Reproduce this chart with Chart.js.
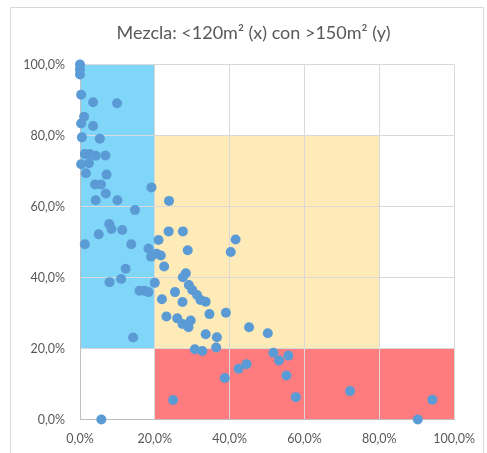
<!DOCTYPE html>
<html><head><meta charset="utf-8">
<script src="https://cdn.jsdelivr.net/npm/chart.js@4/dist/chart.umd.min.js"></script>
<style>html,body{margin:0;padding:0;background:#fff}#wrap{width:487px;height:453px}</style>
</head><body><div id="wrap"><canvas id="c" width="487" height="453"></canvas></div>
<script>
const titleText = 'Mezcla: <120m\u00B2 (x) con >150m\u00B2 (y)';
const tickLabels = ['0,0%','20,0%','40,0%','60,0%','80,0%','100,0%'];
const xValues = [0,0,0,0.3,3.5,9.9,1.1,0.3,3.5,0.5,5.3,1.3,2.6,4.2,6.8,0.3,2.4,1.6,7.1,4.0,5.6,6.9,4.2,10.0,19.1,23.8,14.7,7.8,8.4,5.0,11.3,1.3,13.7,18.3,21.0,23.7,27.5,19.0,20.5,21.6,22.5,12.2,11.0,7.9,20.0,15.9,17.2,18.3,21.9,23.1,14.2,41.6,40.3,28.8,28.3,27.5,29.1,30.0,31.3,32.2,33.6,25.4,27.4,34.6,39.0,26.0,27.4,29.6,29.0,33.6,36.6,30.7,32.7,36.4,45.2,50.2,51.7,53.2,55.7,44.5,42.4,38.7,55.2,57.7,72.2,94.2,90.3,5.7,24.9];
const yValues = [100,98.6,97.2,91.5,89.4,89.1,85.3,83.4,82.7,79.5,79.1,74.8,74.8,74.3,74.4,71.9,72.2,69.4,69.0,66.2,66.2,63.7,61.8,61.8,65.4,61.6,59.0,55.1,53.7,52.2,53.4,49.4,49.4,48.2,50.6,53.0,53.0,45.9,46.7,46.2,43.1,42.5,39.6,38.7,38.5,36.3,36.3,35.9,33.9,29.0,23.1,50.7,47.2,47.7,41.2,40.1,37.9,36.5,35.1,33.7,33.2,35.9,33.1,29.7,30.1,28.5,26.9,27.9,26.0,24.0,23.2,19.8,19.3,20.3,26.0,24.3,18.8,16.6,18.0,15.6,14.3,11.7,12.4,6.3,8.0,5.6,0,0,5.5];
// background zones: [x0, x1, y0, y1]
const zoneX0 = [0, 20, 20];
const zoneX1 = [20, 80, 100];
const zoneY0 = [20, 20, 0];
const zoneY1 = [100, 80, 20];
const zoneColors = ['#80D6F8', '#FFEBB7', '#FF7C7E'];

const points = xValues.map((x, i) => ({x: x, y: yValues[i]}));
const FONT = 'Lato, "Liberation Sans", sans-serif';

const zonePlugin = {
  id: 'zones',
  afterLayout(chart) {
    if (chart.titleBlock) { chart.titleBlock.left = 50; }
  },
  beforeDraw(chart) {
    const ctx = chart.ctx, xs = chart.scales.x, ys = chart.scales.y;
    ctx.save();
    ctx.fillStyle = '#fff';
    ctx.fillRect(0, 0, chart.width, chart.height);
    ctx.strokeStyle = '#d9d9d9';
    ctx.lineWidth = 1;
    ctx.beginPath();
    ctx.moveTo(10.5, 460); ctx.lineTo(10.5, 7.5); ctx.lineTo(483.5, 7.5); ctx.lineTo(483.5, 460);
    ctx.stroke();
    for (let i = 0; i < zoneX0.length; i++) {
      const l = xs.getPixelForValue(zoneX0[i]), r = xs.getPixelForValue(zoneX1[i]);
      const t = ys.getPixelForValue(zoneY1[i]), b = ys.getPixelForValue(zoneY0[i]);
      ctx.fillStyle = zoneColors[i];
      ctx.fillRect(l, t, r - l, b - t);
    }
    ctx.restore();
  }
};

new Chart(document.getElementById('c'), {
  type: 'scatter',
  data: { datasets: [{ data: points, backgroundColor: '#5B9BD5', borderWidth: 0, pointRadius: 5, pointHoverRadius: 5, clip: false }] },
  options: {
    responsive: false, animation: false, devicePixelRatio: 1,
    layout: { padding: { left: 10, right: 30, top: 0, bottom: 0 } },
    plugins: {
      legend: { display: false }, tooltip: { enabled: false },
      title: { display: true, text: titleText, color: '#595959', font: { family: FONT, size: 18, weight: 'normal' }, padding: { top: 22, bottom: 21 } }
    },
    scales: {
      x: {
        type: 'linear', min: 0, max: 100,
        afterFit(s) { s.height = 33.5; },
        grid: { color: '#d9d9d9', drawTicks: false },
        border: { color: '#bfbfbf' },
        ticks: { stepSize: 20, padding: 12, color: '#595959', font: { family: FONT, size: 12.5 }, callback: (v) => tickLabels[Math.round(v / 20)] }
      },
      y: {
        type: 'linear', min: 0, max: 100,
        afterFit(s) { s.width = 70; },
        grid: { color: '#d9d9d9', drawTicks: false },
        border: { color: '#bfbfbf' },
        ticks: { stepSize: 20, padding: 15, color: '#595959', font: { family: FONT, size: 12.5 }, callback: (v) => tickLabels[Math.round(v / 20)] }
      }
    }
  },
  plugins: [zonePlugin]
});
</script></body></html>
